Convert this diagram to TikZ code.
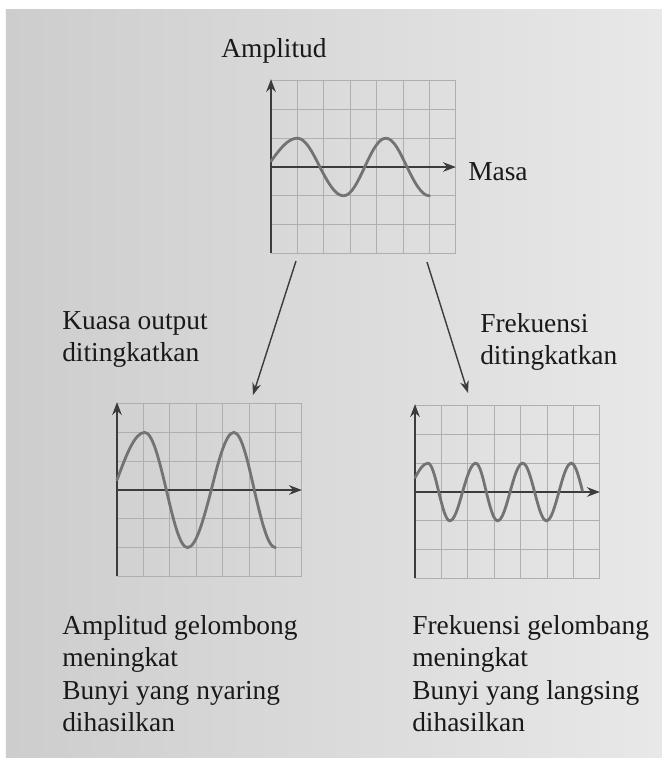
\documentclass[tikz,border=0pt]{standalone}
\usepackage{fontspec}
\setmainfont{Liberation Serif}
\usepackage{xcolor}
\usepackage{tikz}
\usetikzlibrary{arrows.meta,calc}
\definecolor{paper}{RGB}{232,232,232}
\definecolor{paperdark}{RGB}{205,205,205}
\definecolor{gridcol}{RGB}{175,175,175}
\definecolor{axiscol}{RGB}{60,60,60}
\definecolor{wavecol}{RGB}{115,115,115}
\definecolor{inkcol}{RGB}{25,25,25}

\tikzset{
  gridline/.style={gridcol, line width=0.5pt},
  axisline/.style={axiscol, line width=1.3pt, -{Stealth[length=3.2mm, width=2.4mm]}},
  waveline/.style={wavecol, line width=2pt, line cap=round},
  conn/.style={axiscol, line width=1pt, -{Stealth[length=3mm, width=2.2mm]}},
  label/.style={inkcol, font=\fontsize{19.5}{23}\selectfont, align=left, inner sep=0pt}
}

\begin{document}
\begin{tikzpicture}
  % cell size of the oscilloscope grids
  \def\cw{0.66}
  \def\ch{0.72}

  % page
  \useasboundingbox (0,0) rectangle (16.55,18.95);
  \fill[white] (0,0) rectangle (16.55,18.95);
  \shade[left color=paperdark, right color=paper] (0.15,0) rectangle (16.55,18.7);

  % graph origins
  \coordinate (gTop) at (6.775,14.775);
  \coordinate (gLeft) at (2.925,6.7);
  \coordinate (gRight) at (10.375,6.65);

  % original wave
  \begin{scope}[shift={(gTop)}, x=\cw cm, y=\ch cm]
    \draw[gridline, xstep=\cw cm, ystep=\ch cm] (0,-3) grid (7,3);
    \draw[axisline] (0,-3) -- (0,3.05);
    \draw[axisline] (0,0) -- (7,0);
    \draw[waveline] (0,0.2) sin (1,1) cos (1.85,0) sin (2.75,-1) cos (3.55,0)
      sin (4.35,1) cos (5.15,0) sin (6,-1);
  \end{scope}

  % louder wave
  \begin{scope}[shift={(gLeft)}, x=\cw cm, y=\ch cm]
    \draw[gridline, xstep=\cw cm, ystep=\ch cm] (0,-3) grid (7,3);
    \draw[axisline] (0,-3) -- (0,3.05);
    \draw[axisline] (0,0) -- (7,0);
    \draw[waveline] (0,0.35) sin (1.05,2) cos (1.87,0) sin (2.67,-2) cos (3.57,0)
      sin (4.43,2) cos (5.2,0) sin (6,-2);
  \end{scope}

  % higher frequency wave
  \begin{scope}[shift={(gRight)}, x=\cw cm, y=\ch cm]
    \draw[gridline, xstep=\cw cm, ystep=\ch cm] (0,-3) grid (7,3);
    \draw[axisline] (0,-3) -- (0,3.05);
    \draw[axisline] (0,0) -- (7,0);
    \draw[waveline] (0,0.5) sin (0.49,1) cos (0.9,0) sin (1.32,-1) cos (1.8,0)
      sin (2.3,1) cos (2.7,0) sin (3.13,-1) cos (3.6,0)
      sin (4.08,1) cos (4.53,0) sin (4.98,-1) cos (5.45,0)
      sin (5.92,1) cos (6.34,0.05);
  \end{scope}

  % connectors
  \coordinate (fromL) at (7.4,12.425);
  \coordinate (toL) at (6.325,9.075);
  \coordinate (fromR) at (10.675,12.4);
  \coordinate (toR) at (11.7,9.125);
  \draw[conn] (fromL) -- (toL);
  \draw[conn] (fromR) -- (toR);

  % labels
  \node[label] (ampl) at (6.85,17.68) {Amplitud};
  \node[label, anchor=west] (masa) at (11.7,14.65) {Masa};
  \node[label, anchor=north west] (kuasa) at (1.55,11.17)
    {Kuasa output\\ditingkatkan};
  \node[label, anchor=north west] (frek) at (12.0,11.12)
    {Frekuensi\\ditingkatkan};
  \node[label, anchor=north west] (resL) at (1.55,3.57)
    {Amplitud gelombong\\meningkat\\Bunyi yang nyaring\\dihasilkan};
  \node[label, anchor=north west] (resR) at (10.3,3.57)
    {Frekuensi gelombang\\meningkat\\Bunyi yang langsing\\dihasilkan};
\end{tikzpicture}
\end{document}
